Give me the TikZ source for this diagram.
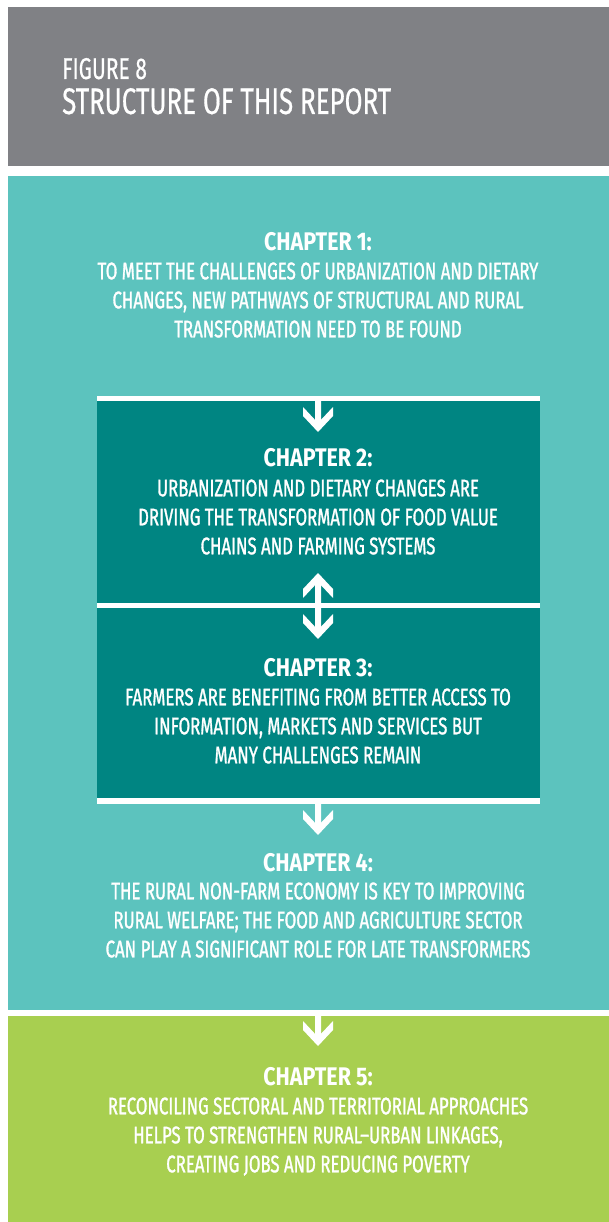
\documentclass[tikz,border=0pt]{standalone}
\usepackage{fontspec}
\setmainfont{Fira Sans}[FakeStretch=0.7, FakeBold=1.2]
\newfontfamily\chapfont{Fira Sans}[FakeStretch=0.84]
\newfontfamily\figfont{Fira Sans}[FakeStretch=0.7, FakeBold=0.5]
\usetikzlibrary{calc}

\definecolor{headgray}{RGB}{128,129,133}
\definecolor{lightteal}{RGB}{92,195,190}
\definecolor{darkteal}{RGB}{0,133,130}
\definecolor{leafgreen}{RGB}{168,207,80}

\newcommand{\chaphead}[1]{{\chapfont\bfseries\fontsize{25.5}{29}\selectfont #1}}

\tikzset{
  headtext/.style={text=white, inner sep=0pt, anchor=base west},
  chaptext/.style={text=white, align=center, inner sep=0pt, anchor=north,
    font=\fontsize{24}{29}\selectfont},
  arrowfill/.style={fill=white},
}

\begin{document}
\begin{tikzpicture}[x=1pt,y=-1pt]
\useasboundingbox (0,0) rectangle (609,1222);

% bands
\fill[headgray] (8,7) rectangle (609,166);
\fill[lightteal] (8,176) rectangle (609,1010);
\fill[leafgreen] (8,1016) rectangle (609,1222);
\fill[darkteal] (97,401) rectangle (540,798);
\fill[white] (97,396) rectangle (540,401);
\fill[white] (97,603) rectangle (540,608);
\fill[white] (97,798) rectangle (540,804);

% heading
\node[headtext, font=\figfont\fontsize{30}{34}\selectfont] (figno) at (62,79) {FIGURE 8};
\node[headtext, font=\figfont\fontsize{37}{42}\selectfont] (figtitle) at (62,114) {STRUCTURE OF THIS REPORT};

% chapters
\node[chaptext] (ch1) at (318,232) {\chaphead{CHAPTER 1:}\\
  TO MEET THE CHALLENGES OF URBANIZATION AND DIETARY\\
  CHANGES, NEW PATHWAYS OF STRUCTURAL AND RURAL\\
  TRANSFORMATION NEED TO BE FOUND};
\node[chaptext] (ch2) at (318,448) {\chaphead{CHAPTER 2:}\\[1pt]
  URBANIZATION AND DIETARY CHANGES ARE\\
  DRIVING THE TRANSFORMATION OF FOOD VALUE\\
  CHAINS AND FARMING SYSTEMS};
\node[chaptext] (ch3) at (318,658) {\chaphead{CHAPTER 3:}\\
  FARMERS ARE BENEFITING FROM BETTER ACCESS TO\\
  INFORMATION, MARKETS AND SERVICES BUT\\
  MANY CHALLENGES REMAIN};
\node[chaptext] (ch4) at (318,853) {\chaphead{CHAPTER 4:}\\[-1pt]
  THE RURAL NON-FARM ECONOMY IS KEY TO IMPROVING\\
  RURAL WELFARE; THE FOOD AND AGRICULTURE SECTOR\\
  CAN PLAY A SIGNIFICANT ROLE FOR LATE TRANSFORMERS};
\node[chaptext] (ch5) at (318,1067) {\chaphead{CHAPTER 5:}\\
  RECONCILING SECTORAL AND TERRITORIAL APPROACHES\\
  HELPS TO STRENGTHEN RURAL--URBAN LINKAGES,\\
  CREATING JOBS AND REDUCING POVERTY};

% arrows
\fill[arrowfill] (318,432) -- ++(15,-16) -- ++(0,-9) -- ++(-12,12.8) -- ++(0,-20) -- ++(-6,0) -- ++(0,20) -- ++(-12,-12.8) -- ++(0,9) -- cycle;
\fill[arrowfill] (318,573) -- ++(15,16) -- ++(0,9) -- ++(-12,-12.8) -- ++(0,41.6) -- ++(12,-12.8) -- ++(0,9) -- ++(-15,16) -- ++(-15,-16) -- ++(0,-9) -- ++(12,12.8) -- ++(0,-41.6) -- ++(-12,12.8) -- ++(0,-9) -- cycle;
\fill[arrowfill] (318,835) -- ++(15,-16) -- ++(0,-9) -- ++(-12,12.8) -- ++(0,-20) -- ++(-6,0) -- ++(0,20) -- ++(-12,-12.8) -- ++(0,9) -- cycle;
\fill[arrowfill] (318,1046) -- ++(15,-16) -- ++(0,-9) -- ++(-12,12.8) -- ++(0,-20) -- ++(-6,0) -- ++(0,20) -- ++(-12,-12.8) -- ++(0,9) -- cycle;
\end{tikzpicture}
\end{document}
